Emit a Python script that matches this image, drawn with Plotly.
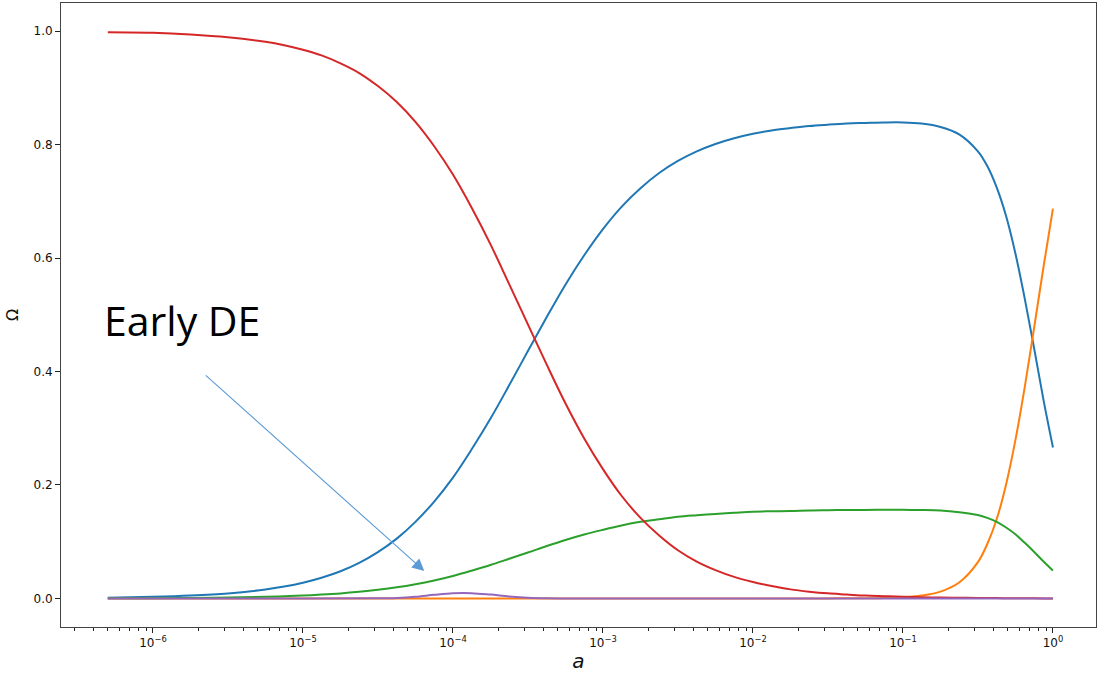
import plotly.graph_objects as go

# ---- data ----
a_values = [5.0e-7, 1.0e-6, 1.78e-6, 3.16e-6, 5.62e-6, 7.50e-6, 1.0e-5, 1.33e-5, 1.78e-5,
            2.37e-5, 3.16e-5, 4.22e-5, 5.62e-5, 7.50e-5, 1.0e-4, 1.33e-4, 1.78e-4,
            2.37e-4, 3.16e-4, 4.22e-4, 5.62e-4, 7.50e-4, 1.0e-3, 1.33e-3, 1.78e-3,
            2.37e-3, 3.16e-3, 4.22e-3, 5.62e-3, 7.50e-3, 1.0e-2, 1.33e-2, 1.78e-2,
            2.37e-2, 3.16e-2, 4.22e-2, 5.62e-2, 7.50e-2, 0.1, 0.133, 0.178, 0.237,
            0.316, 0.365, 0.422, 0.487, 0.562, 0.649, 0.750, 0.866, 1.0]

omega_cdm = [0.0014, 0.0029, 0.0051, 0.0089, 0.0158, 0.0209, 0.0276, 0.0364, 0.0479,
             0.0627, 0.0816, 0.1054, 0.135, 0.1708, 0.213, 0.2624, 0.317,
             0.3756, 0.436, 0.4959, 0.553, 0.6049, 0.651, 0.6902, 0.723,
             0.7497, 0.771, 0.7879, 0.801, 0.8111, 0.819, 0.8248, 0.829,
             0.8326, 0.835, 0.837, 0.838, 0.8389, 0.839, 0.837, 0.831, 0.818,
             0.788, 0.762, 0.724, 0.674, 0.608, 0.528, 0.440, 0.349, 0.266]

omega_de = [0, 0, 0, 0, 0, 0, 0, 0, 0,
            0, 0, 0, 0, 0, 0, 0, 0,
            0, 0, 0, 0, 0, 0, 0, 0,
            0, 0, 0, 0, 0, 0, 0, 0,
            0, 0.0001, 0.0002, 0.0004, 0.0009, 0.0022, 0.0051, 0.012, 0.028,
            0.064, 0.096, 0.140, 0.201, 0.279, 0.373, 0.478, 0.585, 0.687]

omega_b = [0.0003, 0.0005, 0.0009, 0.0017, 0.0029, 0.0039, 0.0052, 0.0068, 0.0089,
           0.0117, 0.0152, 0.0196, 0.0251, 0.0318, 0.0397, 0.0489, 0.059,
           0.0700, 0.081, 0.0924, 0.103, 0.1127, 0.121, 0.1286, 0.135,
           0.1396, 0.144, 0.1467, 0.149, 0.1511, 0.153, 0.1536, 0.154,
           0.1551, 0.1555, 0.1559, 0.156, 0.1562, 0.1562, 0.1559, 0.155, 0.152,
           0.147, 0.142, 0.135, 0.125, 0.113, 0.098, 0.082, 0.065, 0.049]

omega_r = [0.998, 0.997, 0.994, 0.989, 0.981, 0.975, 0.967, 0.957, 0.943,
           0.926, 0.903, 0.875, 0.840, 0.797, 0.747, 0.689, 0.624,
           0.554, 0.483, 0.412, 0.344, 0.282, 0.228, 0.181, 0.142,
           0.111, 0.085, 0.065, 0.050, 0.038, 0.029, 0.022, 0.016,
           0.012, 0.009, 0.007, 0.005, 0.004, 0.003, 0.002, 0.0016, 0.0012,
           0.0009, 0.0007, 0.0006, 0.0005, 0.0004, 0.0003, 0.0002, 0.0001, 0.0001]

a_ede = [5.0e-7, 1.0e-5, 3.16e-5, 4.22e-5, 5.62e-5, 7.50e-5, 1.0e-4, 1.33e-4, 1.78e-4,
         2.37e-4, 3.16e-4, 4.22e-4, 5.62e-4, 1.0e-3, 1.0e-2, 1.0e-1, 1.0]
omega_ede = [0, 0, 0.0002, 0.0010, 0.0030, 0.0064, 0.0091, 0.0093, 0.0068,
             0.0036, 0.0013, 0.0003, 0.0001, 0, 0, 0, 0]

x_tick_vals = [1e-6, 1e-5, 1e-4, 1e-3, 1e-2, 1e-1, 1e0]
x_tick_text = ["10<sup>\u22126</sup>", "10<sup>\u22125</sup>", "10<sup>\u22124</sup>",
               "10<sup>\u22123</sup>", "10<sup>\u22122</sup>", "10<sup>\u22121</sup>",
               "10<sup>0</sup>"]
y_tick_vals = [0.0, 0.2, 0.4, 0.6, 0.8, 1.0]
y_tick_text = ["0.0", "0.2", "0.4", "0.6", "0.8", "1.0"]

minor_vals = [m * 10.0 ** k for k in range(-7, 0) for m in range(2, 10)]
minor_vals = [v for v in minor_vals if 2.5e-7 < v < 1.9]

# ---- figure ----
series = [
    (a_values, omega_cdm, "#1f77b4"),
    (a_values, omega_de, "#ff7f0e"),
    (a_values, omega_b, "#2ca02c"),
    (a_values, omega_r, "#d62728"),
    (a_ede, omega_ede, "#9467bd"),
]

fig = go.Figure()
for xs, ys, col in series:
    fig.add_trace(go.Scatter(x=xs, y=ys, mode="lines",
                             line=dict(color=col, width=2, shape="spline", smoothing=1.0),
                             hoverinfo="skip"))

tick_font = dict(family="DejaVu Sans", size=12, color="#111")

fig.update_layout(
    width=1097, height=673,
    margin=dict(l=61, r=1, t=3, b=46),
    paper_bgcolor="white", plot_bgcolor="white",
    showlegend=False,
    xaxis=dict(
        type="log", range=[-6.613, 0.287],
        tickmode="array", tickvals=x_tick_vals, ticktext=x_tick_text,
        ticks="outside", ticklen=5, tickwidth=1, tickcolor="#222",
        showline=True, linecolor="#444", linewidth=1, mirror=True,
        showgrid=False, zeroline=False, tickfont=tick_font,
        minor=dict(tickmode="array", tickvals=minor_vals, ticks="outside",
                   ticklen=3, tickwidth=1, tickcolor="#222", showgrid=False),
        title=dict(text="<i>a</i>", font=dict(family="DejaVu Sans", size=20, color="#111"),
                   standoff=6),
    ),
    yaxis=dict(
        range=[-0.0503, 1.0494],
        tickmode="array", tickvals=y_tick_vals, ticktext=y_tick_text,
        ticks="outside", ticklen=5, tickwidth=1, tickcolor="#222",
        showline=True, linecolor="#444", linewidth=1, mirror=True,
        showgrid=False, zeroline=False, tickfont=tick_font,
        title=dict(text="\u03a9", font=dict(family="DejaVu Sans", size=16, color="#111"),
                   standoff=10),
    ),
    annotations=[
        dict(text="Early DE", xref="paper", yref="paper", x=0.0396, y=0.492,
             xanchor="left", yanchor="middle", showarrow=False,
             font=dict(family="Open Sans", size=41, color="black")),
        dict(text="", xref="paper", yref="paper", x=0.351, y=0.0897,
             ax=-220, ay=-197, showarrow=True, arrowhead=2, arrowsize=2.2,
             arrowwidth=1.1, arrowcolor="#5b9bd5"),
    ],
)

fig.write_html("out.html")
